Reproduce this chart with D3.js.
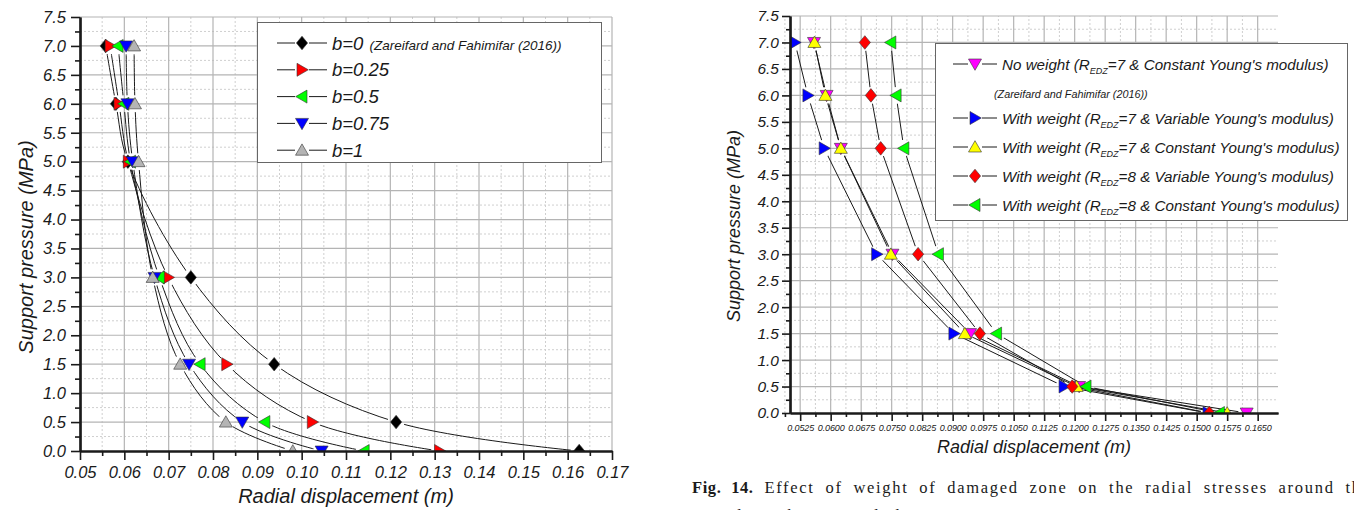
<!DOCTYPE html>
<html lang="en">
<head>
<meta charset="UTF-8">
<title>Support pressure vs radial displacement</title>
<script src="https://d3js.org/d3.v7.min.js"></script>
<style>
  body { margin: 0; background: #fff; }
  svg { display: block; }
  text { font-family: "Liberation Sans", Arial, sans-serif; fill: #1a1a1a; }
</style>
</head>
<body>
<svg id="chart" width="1354" height="510"></svg>
<script>
// ---- data ----
const pressure = [7, 6, 5, 3, 1.5, 0.5, 0];

// left panel: effect of b
const leftNames = ["b=0", "b=0.25", "b=0.5", "b=0.75", "b=1"];
const dispB0   = [0.0558, 0.0581, 0.0608, 0.0750, 0.0938, 0.1213, 0.1626];
const dispB025 = [0.0568, 0.0588, 0.0609, 0.0699, 0.0831, 0.1024, 0.1311];
const dispB05  = [0.0586, 0.0599, 0.0614, 0.0679, 0.0771, 0.0917, 0.1141];
const dispB075 = [0.0604, 0.0607, 0.0619, 0.0668, 0.0746, 0.0866, 0.1045];
const dispB1   = [0.0622, 0.0624, 0.0632, 0.0664, 0.0726, 0.0829, 0.0980];

// right panel: effect of weight of damaged zone
const rightNames = [
  ["No weight (R", "=7 & Constant Young's modulus)"],
  ["With weight (R", "=7 & Variable Young's modulus)"],
  ["With weight (R", "=7 & Constant Young's modulus)"],
  ["With weight (R", "=8 & Variable Young's modulus)"],
  ["With weight (R", "=8 & Constant Young's modulus)"]
];
const noWeight   = [0.0559, 0.0590, 0.0625, 0.0752, 0.0943, 0.1211, 0.1623];
const r7Variable = [0.0512, 0.0544, 0.0584, 0.0713, 0.0903, 0.1174, 0.1528];
const r7Constant = [0.0560, 0.0587, 0.0625, 0.0748, 0.0930, 0.1205, 0.1575];
const r8Variable = [0.0684, 0.0699, 0.0723, 0.0815, 0.0967, 0.1194, 0.1531];
const r8Constant = [0.0748, 0.0761, 0.0780, 0.0865, 0.1008, 0.1228, 0.1556];

// ticks
const yTicks = [0, 0.5, 1, 1.5, 2, 2.5, 3, 3.5, 4, 4.5, 5, 5.5, 6, 6.5, 7, 7.5];
const xTicksLeft = [0.05, 0.06, 0.07, 0.08, 0.09, 0.10, 0.11, 0.12, 0.13, 0.14, 0.15, 0.16, 0.17];
const xTicksRight = [0.0525, 0.0600, 0.0675, 0.0750, 0.0825, 0.0900, 0.0975, 0.1050, 0.1125,
                     0.1200, 0.1275, 0.1350, 0.1425, 0.1500, 0.1575, 0.1650];

const svg = d3.select('#chart');
const defs = svg.append('defs');

// marker shapes (Origin style)
function shape(type) {
  switch (type) {
    case 'diamond': return 'M0,-6.8L5.6,0L0,6.8L-5.6,0Z';
    case 'right':   return 'M6.3,0L-5,-6.5L-5,6.5Z';
    case 'left':    return 'M-6.3,0L5,-6.5L5,6.5Z';
    case 'down':    return 'M0,6.3L-6.5,-5L6.5,-5Z';
    case 'up':      return 'M0,-6.3L6.5,5L-6.5,5Z';
  }
}

function drawPanel(cfg) {
  const x = d3.scaleLinear().domain([0.05, 0.17]).range([cfg.x0, cfg.x1]);
  const y = d3.scaleLinear().domain([0, 7.5]).range([cfg.y0, cfg.y1]);
  const g = svg.append('g');

  // grid
  const xMinor = cfg.xTicks.slice(0, -1).map((v, i) => (v + cfg.xTicks[i + 1]) / 2);
  if (cfg.xTicks[0] > 0.05) xMinor.unshift(cfg.xTicks[0] - (cfg.xTicks[1] - cfg.xTicks[0]) / 2);
  const yMinor = yTicks.slice(0, -1).map(v => v + 0.25);
  const grid = g.append('g');
  grid.selectAll('.vminor').data(xMinor).enter().append('line')
    .attr('x1', d => x(d)).attr('x2', d => x(d)).attr('y1', cfg.y0).attr('y2', cfg.y1)
    .attr('stroke', '#cfcfcf').attr('stroke-width', 1).attr('stroke-dasharray', '2,2');
  grid.selectAll('.hminor').data(yMinor).enter().append('line')
    .attr('y1', d => y(d)).attr('y2', d => y(d)).attr('x1', cfg.x0).attr('x2', cfg.x1)
    .attr('stroke', '#cfcfcf').attr('stroke-width', 1).attr('stroke-dasharray', '2,2');
  grid.selectAll('.vmajor').data(cfg.xTicks.filter(v => v > 0.05)).enter().append('line')
    .attr('x1', d => x(d)).attr('x2', d => x(d)).attr('y1', cfg.y0).attr('y2', cfg.y1)
    .attr('stroke', '#b4b4b4').attr('stroke-width', 1.2);
  grid.selectAll('.hmajor').data(yTicks.filter(v => v > 0)).enter().append('line')
    .attr('y1', d => y(d)).attr('y2', d => y(d)).attr('x1', cfg.x0).attr('x2', cfg.x1)
    .attr('stroke', '#b4b4b4').attr('stroke-width', 1.2);

  // plot clip
  const clipId = cfg.id + '-clip';
  defs.append('clipPath').attr('id', clipId).append('rect')
    .attr('x', cfg.x0).attr('y', cfg.y1 - 10).attr('width', cfg.x1 - cfg.x0 + 10).attr('height', cfg.y0 - cfg.y1 + 10);
  const plot = g.append('g').attr('clip-path', `url(#${clipId})`);

  const line = d3.line().curve(cfg.curve);
  cfg.series.forEach((s, i) => {
    const pts = pressure.map((p, j) => [x(s.values[j]), y(p)]);
    const maskId = cfg.id + '-mask' + i;
    const mask = defs.append('mask').attr('id', maskId).attr('maskUnits', 'userSpaceOnUse')
      .attr('x', 0).attr('y', 0).attr('width', 1354).attr('height', 510);
    mask.append('rect').attr('width', 1354).attr('height', 510).attr('fill', '#fff');
    mask.selectAll('circle').data(pts).enter().append('circle')
      .attr('cx', d => d[0]).attr('cy', d => d[1]).attr('r', 8.5).attr('fill', '#000');
    plot.append('path').attr('d', line(pts)).attr('mask', `url(#${maskId})`)
      .attr('fill', 'none').attr('stroke', '#1a1a1a').attr('stroke-width', 1);
  });
  cfg.series.forEach(s => {
    plot.selectAll(null).data(pressure.map((p, j) => [x(s.values[j]), y(p)])).enter()
      .append('path').attr('d', shape(s.shape))
      .attr('transform', d => `translate(${d[0]},${d[1]})`)
      .attr('fill', s.color).attr('stroke', '#333').attr('stroke-width', 0.6);
  });

  // axes
  const xAxis = g.append('g').attr('transform', `translate(0,${cfg.y0})`);
  xAxis.call(d3.axisBottom(x).tickValues(xMinor).tickSize(cfg.minorLen).tickFormat('').tickSizeOuter(0));
  xAxis.append('g').call(d3.axisBottom(x).tickValues(cfg.xTicks).tickFormat(d3.format(cfg.xFormat))
    .tickSize(cfg.majorLen).tickPadding(cfg.xPad).tickSizeOuter(0));
  const yAxis = g.append('g').attr('transform', `translate(${cfg.x0},0)`);
  yAxis.call(d3.axisLeft(y).tickValues(yMinor).tickSize(cfg.minorLen).tickFormat('').tickSizeOuter(0));
  yAxis.append('g').call(d3.axisLeft(y).tickValues(yTicks).tickFormat(d3.format('.1f'))
    .tickSize(cfg.majorLen).tickPadding(cfg.yPad).tickSizeOuter(0));
  g.selectAll('.domain').attr('stroke', '#1a1a1a').attr('stroke-width', 2.2);
  g.selectAll('.tick line').attr('stroke', '#1a1a1a').attr('stroke-width', 1.6);
  xAxis.selectAll('.tick text').attr('font-size', cfg.xFont).attr('font-style', 'italic')
    .attr('letter-spacing', cfg.xSpacing || 0)
    .attr('font-family', '"Liberation Sans", Arial, sans-serif').attr('fill', '#1a1a1a');
  yAxis.selectAll('.tick text').attr('font-size', cfg.yFont).attr('font-style', 'italic')
    .attr('font-family', '"Liberation Sans", Arial, sans-serif').attr('fill', '#1a1a1a');

  // axis titles
  g.append('text').attr('x', cfg.xTitle[0]).attr('y', cfg.xTitle[1]).attr('text-anchor', 'middle')
    .attr('font-size', cfg.titleFont).attr('font-style', 'italic').text('Radial displacement (m)');
  g.append('text').attr('transform', `translate(${cfg.yTitle[0]},${cfg.yTitle[1]}) rotate(-90)`)
    .attr('text-anchor', 'middle').attr('font-size', cfg.titleFont).attr('font-style', 'italic')
    .text('Support pressure (MPa)');
  return g;
}

function legendEntry(g, cx, cy, half, s) {
  g.append('line').attr('x1', cx - half).attr('x2', cx - 7).attr('y1', cy).attr('y2', cy)
    .attr('stroke', '#1a1a1a').attr('stroke-width', 1);
  g.append('line').attr('x1', cx + 7).attr('x2', cx + half).attr('y1', cy).attr('y2', cy)
    .attr('stroke', '#1a1a1a').attr('stroke-width', 1);
  g.append('path').attr('d', shape(s.shape)).attr('transform', `translate(${cx},${cy})`)
    .attr('fill', s.color).attr('stroke', '#333').attr('stroke-width', 0.6);
}

// ---- left panel ----
const leftSeries = [
  { values: dispB0, shape: 'diamond', color: '#000000' },
  { values: dispB025, shape: 'right', color: '#ff0000' },
  { values: dispB05, shape: 'left', color: '#00ff00' },
  { values: dispB075, shape: 'down', color: '#0000ff' },
  { values: dispB1, shape: 'up', color: '#b4b4b4' }
];
const left = drawPanel({
  id: 'left', x0: 80, x1: 612, y0: 451, y1: 17, series: leftSeries,
  curve: d3.curveCatmullRom.alpha(0.5), xTicks: xTicksLeft, xFormat: '.2f',
  majorLen: 9, minorLen: 5, xPad: 6, yPad: 5, xFont: 16.5, yFont: 16.5, titleFont: 20,
  xTitle: [346, 503], yTitle: [33, 247]
});
const lg = left.append('g');
lg.append('rect').attr('x', 257.5).attr('y', 22.5).attr('width', 344).attr('height', 140)
  .attr('fill', '#fff').attr('stroke', '#666').attr('stroke-width', 1);
leftSeries.forEach((s, i) => {
  const cy = 43 + i * 26.8;
  legendEntry(lg, 302, cy, 25, s);
  const t = lg.append('text').attr('x', 332).attr('y', cy + 6.5).attr('font-size', 18.5)
    .attr('font-style', 'italic').text(leftNames[i]);
  if (i === 0) t.append('tspan').attr('font-size', 13.5).attr('dx', 6)
    .text('(Zareifard and Fahimifar (2016))');
});

// ---- right panel ----
const rightSeries = [
  { values: noWeight, shape: 'down', color: '#ff00ff' },
  { values: r7Variable, shape: 'right', color: '#0000ff' },
  { values: r7Constant, shape: 'up', color: '#ffff00' },
  { values: r8Variable, shape: 'diamond', color: '#ff0000' },
  { values: r8Constant, shape: 'left', color: '#00ff00' }
];
const right = drawPanel({
  id: 'right', x0: 790, x1: 1278, y0: 413, y1: 16, series: rightSeries,
  curve: d3.curveLinear, xTicks: xTicksRight, xFormat: '.4f',
  majorLen: 8, minorLen: 4, xPad: 4, yPad: 3, xFont: 9, xSpacing: -0.15, yFont: 15.5, titleFont: 18,
  xTitle: [1034, 453], yTitle: [740, 226]
});
const rg = right.append('g');
rg.append('rect').attr('x', 935.5).attr('y', 43.5).attr('width', 412).attr('height', 177)
  .attr('fill', '#fff').attr('stroke', '#666').attr('stroke-width', 1);
const rowsY = [64, 118, 147, 176, 205];
rightSeries.forEach((s, i) => {
  const cy = rowsY[i];
  legendEntry(rg, 975, cy, 22, s);
  const t = rg.append('text').attr('x', 1002).attr('y', cy + 5.5).attr('font-size', 15.2)
    .attr('font-style', 'italic');
  t.append('tspan').text(rightNames[i][0]);
  t.append('tspan').attr('font-size', 9).attr('dy', 4).text('EDZ');
  t.append('tspan').attr('dy', -4).text(rightNames[i][1]);
});
rg.append('text').attr('x', 994).attr('y', 98).attr('font-size', 10.8).attr('font-style', 'italic')
  .text('(Zareifard and Fahimifar (2016))');

// ---- caption ----
const cap = svg.append('text').attr('x', 692).attr('y', 493).attr('font-size', 16.5)
  .attr('letter-spacing', 1.7).attr('word-spacing', 5)
  .style('font-family', '"Liberation Serif", "DejaVu Serif", serif');
cap.append('tspan').attr('font-weight', 'bold').attr('letter-spacing', 0.6).text('Fig. 14.');
cap.append('tspan').text(' Effect of weight of damaged zone on the radial stresses around the');
svg.append('text').attr('x', 692).attr('y', 521).attr('font-size', 16.5)
  .style('font-family', '"Liberation Serif", "DejaVu Serif", serif').attr('letter-spacing', 1.7)
  .attr('word-spacing', 5).text('tunnel in the vertical direction.');
</script>
</body>
</html>
